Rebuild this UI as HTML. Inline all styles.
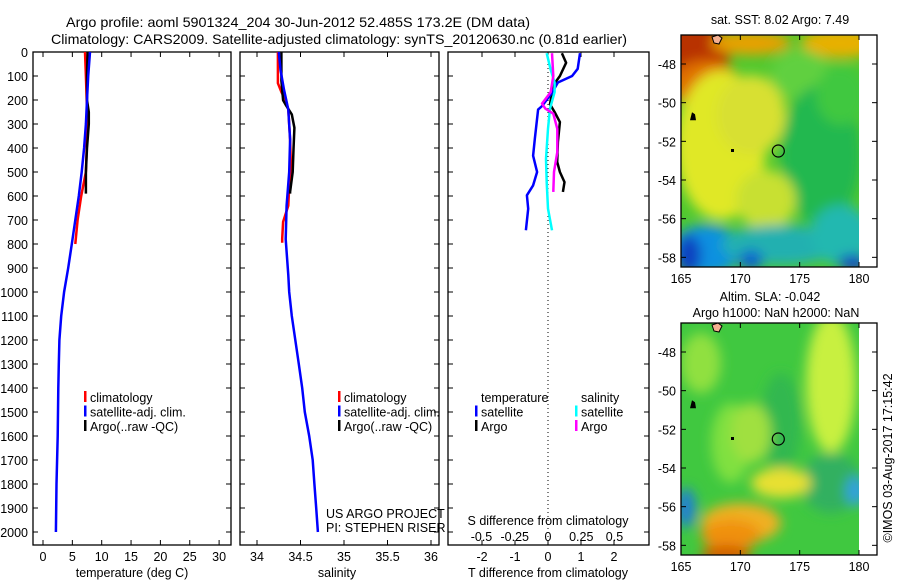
<!DOCTYPE html>
<html><head><meta charset="utf-8"><style>
body{margin:0;background:#fff;}
svg{display:block;font-family:"Liberation Sans",sans-serif;}
text{fill:#000;}
</style></head><body>
<svg id="c" width="900" height="580" viewBox="0 0 900 580">
<text x="66" y="27" font-size="14" textLength="464" lengthAdjust="spacingAndGlyphs">Argo profile: aoml 5901324_204 30-Jun-2012 52.485S 173.2E (DM data)</text>
<text x="51" y="44" font-size="14" textLength="576" lengthAdjust="spacingAndGlyphs">Climatology: CARS2009. Satellite-adjusted climatology: synTS_20120630.nc (0.81d earlier)</text>
<g id="g"></g>
</svg>
<script>
// ---- data ----
const depthTick=[0,100,200,300,400,500,600,700,800,900,1000,1100,1200,1300,1400,1500,1600,1700,1800,1900,2000];
const tempTicks=[0,5,10,15,20,25,30];
const salTicks=[34,34.5,35,35.5,36];
const salTickLabels=['34','34.5','35','35.5','36'];
const tdTicks=[-2,-1,0,1,2];
const sdTicks=[-0.5,-0.25,0,0.25,0.5];
const sdTickLabels=['-0.5','-0.25','0','0.25','0.5'];
const latTicks=[-48,-50,-52,-54,-56,-58];
const lonTicks=[165,170,175,180];

const climTdep=[0,100,200,300,400,500,600,700,800];
const climT=[7.15,7.3,7.45,7.5,7.45,7.3,6.5,5.9,5.5];
const satTdep=[0,100,200,300,400,500,600,700,800,900,1000,1100,1200,1300,1400,1600,1800,2000];
const satT=[8.0,7.7,7.5,7.3,7.0,6.6,6.1,5.5,4.9,4.3,3.6,3.1,2.8,2.7,2.6,2.5,2.3,2.2];
const argoTdep=[0,100,200,250,300,400,500,590];
const argoT=[7.6,7.5,7.5,7.8,7.8,7.5,7.3,7.3];

const climSdep=[0,130,167,200,240,365,472,560,640,708,778,795];
const climS=[34.24,34.24,34.28,34.33,34.36,34.38,34.39,34.37,34.36,34.3,34.29,34.29];
const satSdep=[0,74,157,240,365,500,640,780,930,1000,1100,1200,1300,1400,1500,1600,1700,1800,1900,2000];
const satS=[34.25,34.27,34.31,34.36,34.38,34.37,34.34,34.33,34.36,34.37,34.4,34.44,34.48,34.52,34.55,34.6,34.64,34.66,34.68,34.7];
const argoSdep=[0,120,201,220,260,316,406,500,583,590];
const argoS=[34.28,34.28,34.3,34.33,34.4,34.43,34.42,34.41,34.38,34.38];

const dTdep=[5,70,100,127,170,225,240,363,432,500,556,597,653,743];
const dTsat=[0.97,0.9,0.73,0.3,0.12,-0.18,-0.3,-0.4,-0.45,-0.33,-0.45,-0.64,-0.6,-0.67];
const dTargoDep=[5,45,100,140,218,250,292,375,458,500,542,583];
const dTargo=[0.42,0.55,0.36,0.15,0.06,0.2,0.36,0.3,0.28,0.36,0.5,0.45];
const dSdep=[5,74,127,167,236,320,445,542,653,743];
const dSsat=[-0.01,0.02,0.05,0.05,0.015,0,-0.015,-0.01,0,0.03];
const dSargoDep=[5,100,167,215,236,257,320,417,500,583];
const dSargo=[0.03,0.04,0.02,-0.045,-0.02,0.04,0.07,0.07,0.045,0.04];

const NS='http://www.w3.org/2000/svg';
const G=document.getElementById('g');
const FS=12.5;
function mk(tag,at,parent){const e=document.createElementNS(NS,tag);for(const k in at)e.setAttribute(k,at[k]);(parent||G).appendChild(e);return e;}
function txt(x,y,s,anchor,size,parent){const t=mk('text',{x:x,y:y,'font-size':size||FS,'text-anchor':anchor||'start'},parent);t.textContent=s;return t;}

// axis functions
const Y0=52,YS=0.24;
const yD=d=>Y0+d*YS;
const xT=v=>43+v*5.87;
const xS=v=>257+(v-34)*87;
const xTd=v=>548+v*33;
const xSd=v=>548+v*133;

const panels=[[33,231,'panel-temperature'],[240,439,'panel-salinity'],[448,649,'panel-difference']];
panels.forEach(p=>{
  const r=mk('rect',{x:p[0],y:Y0,width:p[1]-p[0],height:545-Y0,fill:'none',stroke:'#000','stroke-width':1.3});
  
  
  depthTick.forEach(d=>{
    mk('line',{x1:p[0],x2:p[0]+5,y1:yD(d),y2:yD(d),stroke:'#000'});
    mk('line',{x1:p[1],x2:p[1]-5,y1:yD(d),y2:yD(d),stroke:'#000'});
  });
});
depthTick.forEach(d=>{
  const t=txt(28,yD(d)+5,String(d),'end',FS);
  
  
});
function xticks(vals,labels,fx,ly){
  vals.forEach((v,i)=>{
    const x=fx(v);
    mk('line',{x1:x,x2:x,y1:545,y2:540,stroke:'#000'});
    mk('line',{x1:x,x2:x,y1:Y0,y2:Y0+5,stroke:'#000'});
    const t=txt(x,ly,labels[i],'middle',FS);
    
    
  });
}
xticks(tempTicks,tempTicks.map(String),xT,561);
xticks(salTicks,salTickLabels,xS,561);
xticks(tdTicks,tdTicks.map(String),xTd,561);
sdTicks.forEach((v,i)=>{
  const t=txt(xSd(v),541,sdTickLabels[i],'middle',FS);
  
  
});
let t;
t=txt(132,577,'temperature (deg C)','middle',FS);
t=txt(337,577,'salinity','middle',FS);
t=txt(548,577,'T difference from climatology','middle',FS);
t=txt(548,525,'S difference from climatology','middle',FS);
const zl=mk('line',{x1:xTd(0),x2:xTd(0),y1:Y0,y2:545,stroke:'#000','stroke-dasharray':'1,3'});



function stepLine(xs,ds,fx,color,name,w){
  let d='';
  xs.forEach((v,i)=>{d+=(i?'L':'M')+fx(v).toFixed(1)+','+yD(ds[i]).toFixed(1);});
  const p=mk('path',{d:d,fill:'none',stroke:color,'stroke-width':w||2.5,'stroke-linejoin':'round'});
  
  
}
stepLine(climT,climTdep,xT,'#f00','temp-climatology-line');
stepLine(argoT,argoTdep,xT,'#000','temp-argo-line');
stepLine(satT,satTdep,xT,'#00f','temp-satellite-line');
stepLine(climS,climSdep,xS,'#f00','sal-climatology-line');
stepLine(argoS,argoSdep,xS,'#000','sal-argo-line');
stepLine(satS,satSdep,xS,'#00f','sal-satellite-line');
stepLine(dTargo,dTargoDep,xTd,'#000','tdiff-argo-line');
stepLine(dTsat,dTdep,xTd,'#00f','tdiff-satellite-line');
stepLine(dSsat,dSdep,xSd,'#0ff','sdiff-satellite-line');
stepLine(dSargo,dSargoDep,xSd,'#f0f','sdiff-argo-line');

function legend(x,y,items,name){
  items.forEach((it,i)=>{
    if(it[1]) mk('rect',{x:x,y:y+i*14.5-11,width:2.5,height:11,fill:it[1]});
    const tt=txt(x+6,y+i*14.5,it[0],'start',FS);
    
    
  });
}
legend(84,402,[['climatology','#f00'],['satellite-adj. clim.','#00f'],['Argo(..raw -QC)','#000']],'temp-legend');
legend(338,402,[['climatology','#f00'],['satellite-adj. clim.','#00f'],['Argo(..raw -QC)','#000']],'sal-legend');
legend(475,402,[['temperature',null],['satellite','#00f'],['Argo','#000']],'tdiff-legend');
legend(575,402,[['salinity',null],['satellite','#0ff'],['Argo','#f0f']],'sdiff-legend');
t=txt(326,518,'US ARGO PROJECT','start',FS);
t=txt(326,532,'PI: STEPHEN RISER','start',FS);

// ---- maps ----
function map(top,name,blobs,base){
  const bot=top+232, latTop=-46.5, latBot=-58.5;
  const yL=l=>top+(latTop-l)/(latTop-latBot)*(bot-top);
  const xL=l=>681+(l-165)/15*178;
  const g=mk('g',{});
  
  
  const cid='clip'+top;
  const cp=mk('clipPath',{id:cid},g);mk('rect',{x:681,y:top,width:178,height:232},cp);
  const fid='blur'+top;
  const f=mk('filter',{id:fid,x:'-20%',y:'-20%',width:'140%',height:'140%'},g);mk('feGaussianBlur',{stdDeviation:6},f);
  const ig=mk('g',{'clip-path':'url(#'+cid+')'},g);
  mk('rect',{x:681,y:top,width:178,height:232,fill:base},ig);
  const bg=mk('g',{filter:'url(#'+fid+')'},ig);
  blobs.forEach(b=>mk('ellipse',{cx:681+b[0],cy:top+b[1],rx:b[2],ry:b[3],fill:b[4]},bg));
  mk('path',{d:'M'+(712)+','+(top+2)+' l6,-2 l4,3 l-3,6 l-5,-1z',fill:'#f4b090',stroke:'#000','stroke-width':1},g);
  mk('path',{d:'M'+(690)+','+(yL(-50.7)+4)+' l2,-8 l3,2 l1,6z',fill:'#000'},g);
  mk('rect',{x:731,y:yL(-52.5)-2,width:3,height:3,fill:'#000'},g);
  mk('rect',{x:681,y:top,width:196,height:232,fill:'none',stroke:'#000','stroke-width':1.3},g);
  latTicks.forEach(l=>{
    mk('line',{x1:681,x2:686,y1:yL(l),y2:yL(l),stroke:'#000'},g);
    mk('line',{x1:877,x2:872,y1:yL(l),y2:yL(l),stroke:'#000'},g);
    const tl=txt(676,yL(l)+5,String(l),'end',FS,g);
    
    
  });
  lonTicks.forEach(l=>{
    mk('line',{x1:xL(l),x2:xL(l),y1:bot,y2:bot-5,stroke:'#000'},g);
    mk('line',{x1:xL(l),x2:xL(l),y1:top,y2:top+5,stroke:'#000'},g);
    const tl=txt(xL(l),bot+16,String(l),'middle',FS,g);
    
    
  });
  const c=mk('circle',{cx:xL(173.2),cy:yL(-52.5),r:6,fill:'none',stroke:'#000','stroke-width':1.2},g);
  
  
}
map(35,'sst-map',[
  [10,15,40,30,'#b83000'],[25,50,35,25,'#e07000'],[70,8,40,12,'#e8a000'],[160,8,40,15,'#e8b000'],
  [40,110,45,75,'#e0e828'],[70,80,35,40,'#d8e030'],[120,40,30,25,'#60d040'],[140,120,40,70,'#20b850'],[160,60,25,30,'#40c840'],
  [85,165,30,30,'#c8e030'],[25,215,35,25,'#1090e0'],[100,210,60,20,'#20b0b0'],[160,200,30,30,'#20b8b0'],[8,220,12,20,'#1040c0'],[172,228,15,8,'#1840c0'],[70,225,12,10,'#1060d0']
],'#50c830');
map(323,'sla-map',[
  [150,60,25,70,'#c8f040'],[50,120,20,40,'#80e040'],[100,100,20,50,'#30b850'],[150,160,30,30,'#30b060'],
  [70,110,20,30,'#a0e040'],[60,200,40,20,'#f0b020'],[50,212,30,15,'#f09010'],[100,160,30,15,'#e8e030'],
  [5,185,10,20,'#2080d0'],[175,168,10,15,'#30a0e0'],[45,232,25,10,'#d06000'],[20,40,20,30,'#90e040']
],'#40c840');

t=txt(780,24,'sat. SST: 8.02 Argo: 7.49','middle',FS);
t=txt(770,301,'Altim. SLA: -0.042','middle',FS);
t=txt(776,317,'Argo h1000: NaN h2000: NaN','middle',FS);
t=txt(0,0,'\u00a9IMOS 03-Aug-2017 17:15:42','middle',FS);
t.setAttribute('transform','translate(892,458) rotate(-90)');


</script>
</body></html>
